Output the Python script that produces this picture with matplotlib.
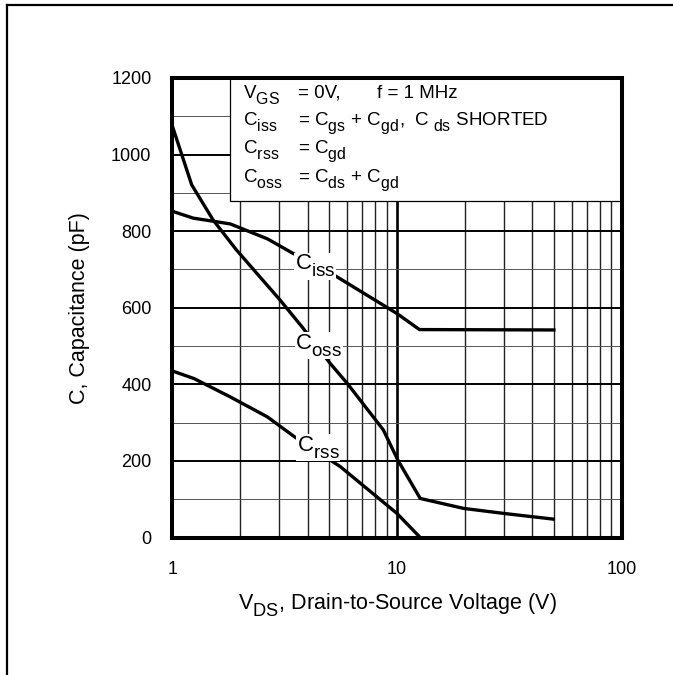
import matplotlib
matplotlib.use('Agg')
import matplotlib.pyplot as plt
from matplotlib.lines import Line2D
from matplotlib.patches import Rectangle

# larger, lower subscripts as in the reference typography
try:
    import matplotlib._mathtext as _mt
    _mt.SHRINK_FACTOR = 0.85
    _mt.FontConstantsBase.subdrop = 0.6
    _mt.FontConstantsBase.sub1 = 0.6
    _mt.FontConstantsBase.script_space = 0.08
except Exception:
    pass

plt.rcParams['font.family'] = ['Liberation Sans', 'DejaVu Sans']
plt.rcParams['mathtext.fontset'] = 'custom'
plt.rcParams['mathtext.rm'] = 'Liberation Sans'
plt.rcParams['mathtext.it'] = 'Liberation Sans'
plt.rcParams['mathtext.bf'] = 'Liberation Sans:bold'
plt.rcParams['mathtext.default'] = 'regular'

# ---- data ----
vds_ciss = [1, 1.24, 1.81, 2.65, 3.4, 5.4, 10, 12.6, 50]
c_iss = [852, 834, 819, 780, 744, 681, 585, 543, 542]

vds_coss = [1, 1.22, 1.52, 1.93, 3.02, 3.77, 5.04, 6.0, 8.7, 10.1, 12.7, 19.8, 29.8, 49.7]
c_oss = [1075, 921, 829, 751, 620, 551, 455, 403, 281, 202, 102, 76, 63, 48]

vds_crss = [1, 1.25, 1.8, 2.65, 3.5, 5.6, 10, 12.7]
c_rss = [435, 415, 368, 315, 263, 185, 63, 0]

curve_labels = [r"$C_{iss}$", r"$C_{oss}$", r"$C_{rss}$"]
label_pos_v = [4.32, 4.5, 4.45]
label_pos_c = [708, 501, 234]

x_ticks = [1, 10, 100]
x_ticklabels = ["1", "10", "100"]
y_ticks = [0, 200, 400, 600, 800, 1000, 1200]
y_ticklabels = ["0", "200", "400", "600", "800", "1000", "1200"]

W, H = 673, 675
fig = plt.figure(figsize=(W / 100, H / 100), dpi=100)

def fx(px):
    return px / W

def fy(py):
    return 1 - py / H

# outer partial frame (left and top lines)
fig.add_artist(Line2D([fx(7), fx(7)], [fy(5), 0], transform=fig.transFigure,
                      color='black', lw=1.6))
fig.add_artist(Line2D([fx(7), 1], [fy(5), fy(5)], transform=fig.transFigure,
                      color='black', lw=1.6))

ax = fig.add_axes([fx(172.3), fy(537.5), (621.5 - 172.3) / W, (537.5 - 78) / H])
ax.set_xscale('log')
ax.set_xlim(1, 100)
ax.set_ylim(0, 1200)
ax.set_axisbelow(True)

ax.set_xticks(x_ticks)
ax.set_xticklabels(x_ticklabels)
ax.set_yticks(y_ticks)
ax.set_yticklabels(y_ticklabels)
ax.set_yticks(range(100, 1200, 200), minor=True)
ax.xaxis.set_minor_locator(matplotlib.ticker.LogLocator(base=10, subs=range(2, 10)))
ax.xaxis.set_minor_formatter(matplotlib.ticker.NullFormatter())
ax.tick_params(which='both', length=0)
ax.tick_params(axis='x', which='major', pad=17, labelsize=13)
ax.tick_params(axis='y', which='major', pad=15, labelsize=13)

ax.grid(True, axis='y', which='major', color='black', lw=1.4)
ax.grid(True, axis='y', which='minor', color='#555555', lw=0.7)
ax.grid(True, axis='x', which='major', color='black', lw=1.9)
ax.grid(True, axis='x', which='minor', color='#222222', lw=1.0)

for s in ax.spines.values():
    s.set_linewidth(2.9)
    s.set_zorder(5)

# condition box
ax.add_patch(Rectangle((0.1285, 0.7323), 1 - 0.1285, 1 - 0.7323, transform=ax.transAxes,
                       facecolor='white', edgecolor='black', lw=0.9, zorder=1.5))

ax.plot(vds_ciss, c_iss, color='black', lw=2.4, zorder=2, solid_joinstyle='miter')
ax.plot(vds_coss, c_oss, color='black', lw=2.4, zorder=2, solid_joinstyle='miter')
ax.plot(vds_crss, c_rss, color='black', lw=2.4, zorder=2, solid_joinstyle='miter')

for lab, v, c in zip(curve_labels, label_pos_v, label_pos_c):
    ax.text(v, c, lab, ha='center', va='center', fontsize=16, zorder=3,
            bbox=dict(boxstyle='square,pad=0.02', facecolor='white', edgecolor='none'))

# condition text rows
fs = 13.5
rows = [
    (98, r"$V_{GS}$", r"= 0V,"),
    (125, r"$C_{iss}$", r"= $C_{gs}$ + $C_{gd}$,  $C_{\ ds}$ SHORTED"),
    (153, r"$C_{rss}$", r"= $C_{gd}$"),
    (182, r"$C_{oss}$", r"= $C_{ds}$ + $C_{gd}$"),
]
for y, left, right in rows:
    fig.text(fx(243), fy(y), left, fontsize=fs, va='baseline', ha='left', zorder=6)
    fig.text(fx(298), fy(y), right, fontsize=fs, va='baseline', ha='left', zorder=6)
fig.text(fx(377), fy(98), "f = 1 MHz", fontsize=fs, va='baseline', ha='left', zorder=6)

ax.set_ylabel("C, Capacitance (pF)", fontsize=15.5)
ax.yaxis.set_label_coords((79 - 172.3) / 449.2, 0.5)
ax.set_xlabel(r"$V_{DS}$, Drain-to-Source Voltage (V)", fontsize=15.5)
ax.xaxis.set_label_coords(0.5, -(605 - 537.5) / 459.5)
ax.xaxis.label.set_va('center')
ax.yaxis.label.set_va('center')

fig.savefig("out.png", dpi=100, facecolor='white')
